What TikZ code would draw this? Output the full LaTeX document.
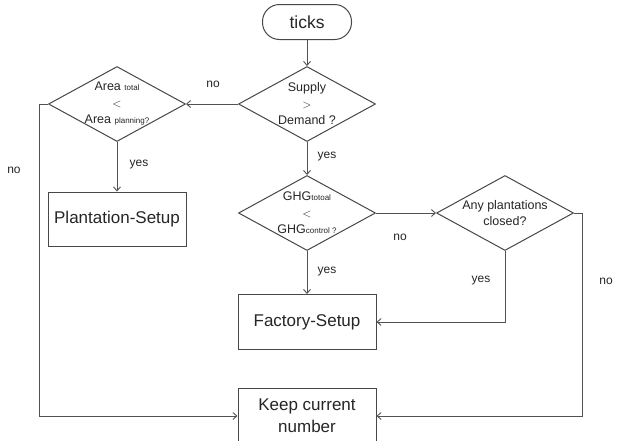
\documentclass[tikz,border=0pt]{standalone}
\usepackage{fontspec}
\setmainfont{Liberation Sans}
\usetikzlibrary{shapes.geometric,arrows.meta}
\begin{document}
\begin{tikzpicture}[x=1pt,y=-1pt,
  line width=1pt,
  flow/.style={draw=black!68, -{Straight Barb[length=4pt,width=7pt,line width=0.9pt]}},
  procbox/.style={draw=black!72, rectangle, minimum width=138pt, inner sep=0pt,
    font=\fontsize{17}{22}\selectfont, text=black!85, align=center},
  startbox/.style={draw=black!72, rounded corners=17pt, minimum width=89pt,
    minimum height=35pt, inner sep=0pt, font=\fontsize{17.5}{20}\selectfont, text=black!85},
  decision/.style={draw=black!72, diamond, inner sep=0pt, minimum width=137pt,
    minimum height=75pt, aspect=1.8},
  dtext/.style={align=center, font=\fontsize{12.5}{16.5}\selectfont, text=black!85, inner sep=0pt},
  edgelabel/.style={font=\fontsize{12}{14}\selectfont, text=black!85, inner sep=0pt}]
\clip (0,0) rectangle (620,440);
\fill[white] (0,0) rectangle (620,440);

% nodes
\node[startbox] (ticks) at (307,22) {ticks};
\node[decision, label={[dtext]center:Supply\\$>$\\Demand ?}] (sup) at (307,104) {};
\node[decision, label={[dtext]center:Area {\fontsize{8}{9}\selectfont total}\\$<$\\Area {\fontsize{8}{9}\selectfont planning?}}] (area) at (117,104) {};
\node[procbox, minimum height=54pt] (plant) at (117,219) {Plantation-Setup};
\node[decision, label={[dtext]center:GHG{\fontsize{8}{9}\selectfont totoal}\\$<$\\GHG{\fontsize{8}{9}\selectfont control ?}}] (ghg) at (307,213) {};
\node[decision, label={[dtext]center:Any plantations\\closed?}] (any) at (505,213) {};
\node[procbox, minimum height=55pt] (fact) at (307,322) {Factory-Setup};
\node[procbox, minimum height=56pt] (keep) at (307,416) {Keep current\\number};

% free corners of the loop-back lines
\coordinate (lcorner) at (39,104);
\coordinate (rcorner) at (582,213);

% connectors
\draw[flow] (ticks.south) -- (sup.north);
\draw[flow] (sup.west) -- (area.east);
\draw[flow] (area.south) -- (plant.north);
\draw[flow] (area.west) -- (lcorner) |- (keep.west);
\draw[flow] (sup.south) -- (ghg.north);
\draw[flow] (ghg.east) -- (any.west);
\draw[flow] (ghg.south) -- (fact.north);
\draw[flow] (any.south) |- (fact.east);
\draw[flow] (any.east) -- (rcorner) |- (keep.east);

% edge labels
\node[edgelabel] (l1) at (213,84) {no};
\node[edgelabel] (l2) at (139,165) {yes};
\node[edgelabel] (l3) at (14,170) {no};
\node[edgelabel] (l4) at (327,157) {yes};
\node[edgelabel] (l5) at (400,237) {no};
\node[edgelabel] (l6) at (327,272) {yes};
\node[edgelabel] (l7) at (481,281) {yes};
\node[edgelabel] (l8) at (606,281) {no};
\end{tikzpicture}
\end{document}
